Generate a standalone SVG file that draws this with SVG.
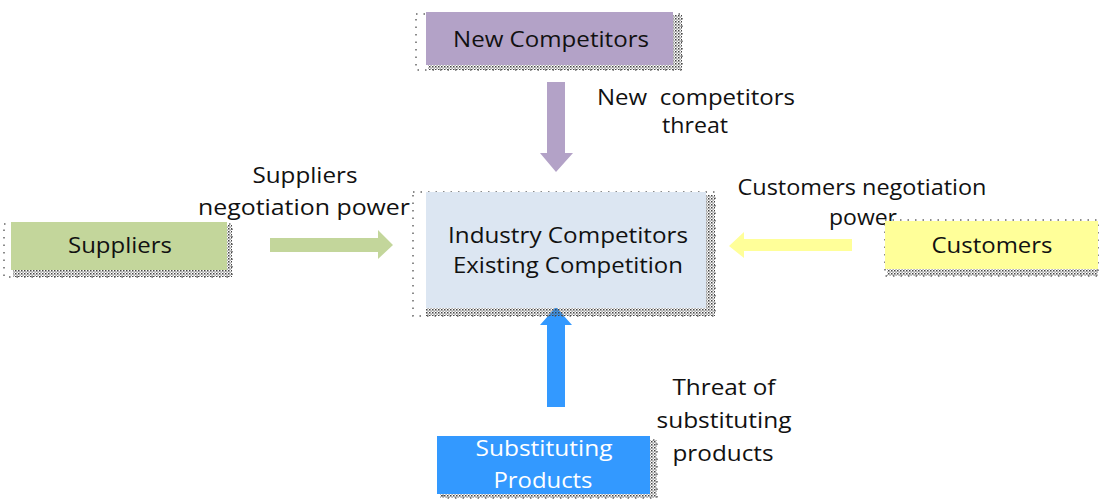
<svg xmlns="http://www.w3.org/2000/svg" width="1099" height="499" viewBox="0 0 1099 499">
<style>
text{font-family:"Open Sans","Liberation Sans",sans-serif;font-size:22px;fill:#111;text-anchor:middle}
.w{fill:#fff}
.sh{fill:url(#dots)}
.ol{fill:none;stroke:#666;stroke-width:1.5;stroke-dasharray:1.5 6}
</style>
<defs>
<pattern id="dots" width="3" height="3" patternUnits="userSpaceOnUse">
<rect x="0" y="0" width="1.5" height="1.5" fill="#444"/>
<rect x="1.5" y="1.5" width="1.2" height="1.2" fill="#666"/>
</pattern>
</defs>
<rect width="1099" height="499" fill="#fff"/>
<g id="connectors">
<polygon points="547,82 565,82 565,153 573,153 556,172 540,153 547,153" fill="#b3a2c7"/>
<polygon points="270,238 378,238 378,230 393,245 378,259 378,252 270,252" fill="#c3d69b"/>
<polygon points="852,239 744,239 744,232 729,246 744,258 744,251 852,251" fill="#ffff99"/>
<polygon points="547,407 547,325 540,325 556,307 572,325 565,325 565,407" fill="#3399ff"/>
</g>
<g id="labels">
<text x="305" y="183" textLength="105" lengthAdjust="spacingAndGlyphs">Suppliers</text>
<text x="304" y="215" textLength="212" lengthAdjust="spacingAndGlyphs">negotiation power</text>
<text x="696" y="105" xml:space="preserve" textLength="198" lengthAdjust="spacingAndGlyphs">New  competitors</text>
<text x="695" y="133" textLength="66" lengthAdjust="spacingAndGlyphs">threat</text>
<text x="862" y="195" textLength="249" lengthAdjust="spacingAndGlyphs">Customers negotiation</text>
<text x="863" y="225" textLength="68" lengthAdjust="spacingAndGlyphs">power</text>
<text x="724" y="395" textLength="103" lengthAdjust="spacingAndGlyphs">Threat of</text>
<text x="724" y="428" textLength="135" lengthAdjust="spacingAndGlyphs">substituting</text>
<text x="723" y="461" textLength="101" lengthAdjust="spacingAndGlyphs">products</text>
</g>
<g id="new-competitors">
<rect class="ol" x="416" y="14" width="266" height="56"/>
<path class="sh" d="M673,15H682V70H428V65H673Z"/>
<rect x="426" y="12" width="247" height="53" fill="#b3a2c7"/>
<text x="551" y="47" textLength="196" lengthAdjust="spacingAndGlyphs">New Competitors</text>
</g>
<g id="industry">
<rect class="ol" x="413" y="192" width="302" height="124"/>
<path class="sh" d="M706,195H715V316H426V308H706Z"/>
<rect x="426" y="192" width="280" height="116" fill="#dce6f2"/>
<text x="568" y="243" textLength="240" lengthAdjust="spacingAndGlyphs">Industry Competitors</text>
<text x="568" y="273" textLength="230" lengthAdjust="spacingAndGlyphs">Existing Competition</text>
</g>
<g id="suppliers">
<rect class="ol" x="4" y="224" width="228" height="53"/>
<path class="sh" d="M227,225H232V277H13V270H227Z"/>
<rect x="11" y="222" width="216" height="48" fill="#c3d69b"/>
<text x="120" y="253" textLength="104" lengthAdjust="spacingAndGlyphs">Suppliers</text>
</g>
<g id="customers">
<rect class="ol" x="885" y="220" width="213" height="56"/>
<path class="sh" d="M1098,224V276H887V269H1098Z"/>
<rect x="885" y="221" width="213" height="48" fill="#ffff99"/>
<text x="992" y="253" textLength="121" lengthAdjust="spacingAndGlyphs">Customers</text>
</g>
<g id="substituting">
<rect class="ol" x="443" y="440" width="214" height="58"/>
<path class="sh" d="M650,440H657V498H440V494H650Z"/>
<rect x="437" y="436" width="213" height="58" fill="#3399ff"/>
<text class="w" x="544" y="456" textLength="137" lengthAdjust="spacingAndGlyphs">Substituting</text>
<text class="w" x="543" y="488" textLength="99" lengthAdjust="spacingAndGlyphs">Products</text>
</g>
</svg>
